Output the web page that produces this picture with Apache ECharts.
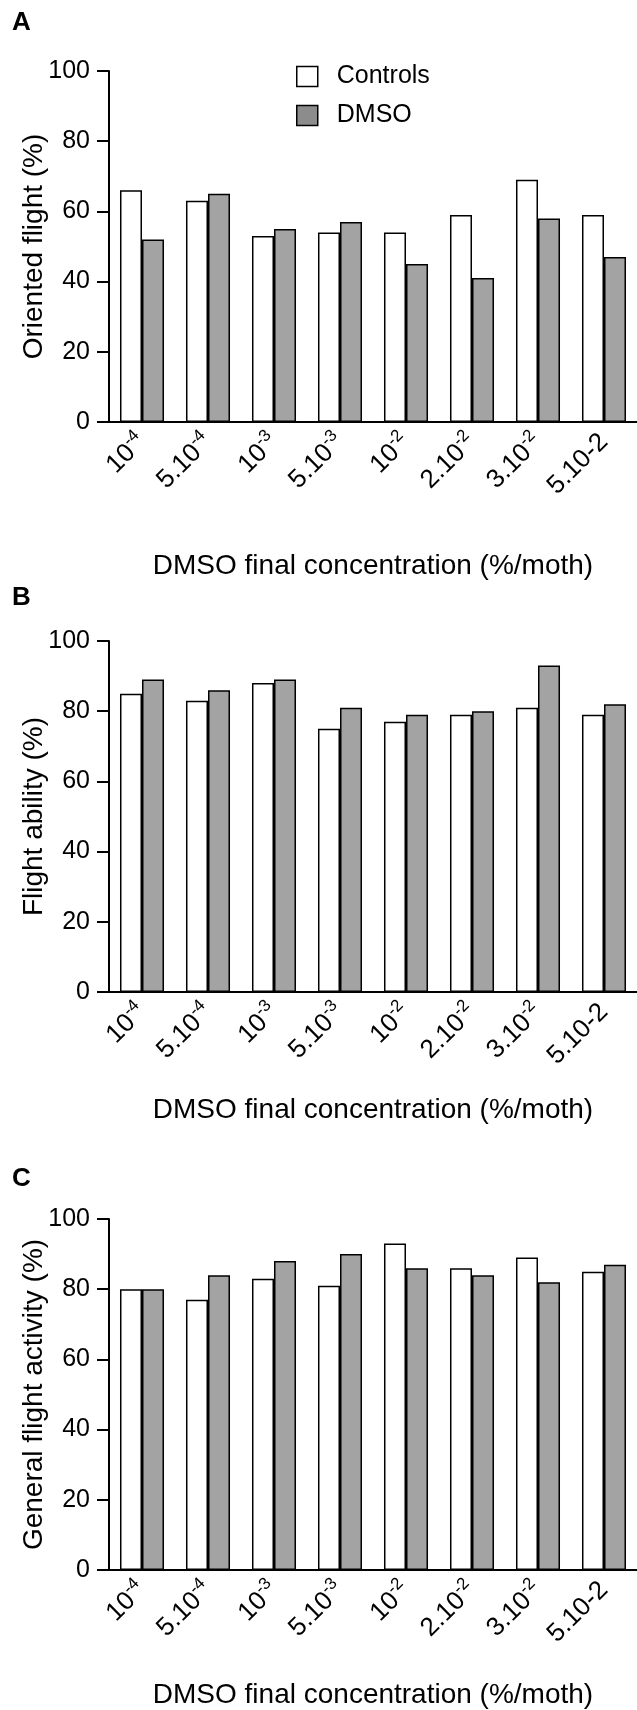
<!DOCTYPE html>
<html>
<head>
<meta charset="utf-8">
<script src="https://cdn.jsdelivr.net/npm/echarts@6/dist/echarts.min.js"></script>
<style>
html,body{margin:0;padding:0;background:#fff;}
#c{width:637px;height:1710px;}
</style>
</head>
<body>
<div id="c"></div>
<script>
var categories = ['10^-4', '5.10^-4', '10^-3', '5.10^-3', '10^-2', '2.10^-2', '3.10^-2', '5.10-2'];
var seriesNames = ['Controls', 'DMSO'];
var panelLetters = ['A', 'B', 'C'];
var yAxisNames = ['Oriented flight (%)', 'Flight ability (%)', 'General flight activity (%)'];
var xAxisName = 'DMSO final concentration (%/moth)';
var yTicks = [0, 20, 40, 60, 80, 100];

var orientedControls = [66, 63, 53, 54, 54, 59, 69, 59];
var orientedDMSO     = [52, 65, 55, 57, 45, 41, 58, 47];
var abilityControls  = [85, 83, 88, 75, 77, 79, 81, 79];
var abilityDMSO      = [89, 86, 89, 81, 79, 80, 93, 82];
var activityControls = [80, 77, 83, 81, 93, 86, 89, 85];
var activityDMSO     = [80, 84, 88, 90, 86, 84, 82, 87];

var panels = [
  {controls: orientedControls, dmso: orientedDMSO},
  {controls: abilityControls, dmso: abilityDMSO},
  {controls: activityControls, dmso: activityDMSO}
];

var FONT = '"Liberation Sans", Arial, Helvetica, sans-serif';
var gridTops = [71, 641, 1219];
var gridH = 351;
var letterTops = [10, 585, 1166];
var xNameGaps = [130, 104, 111];

function fmt(v) {
  var i = v.indexOf('^');
  if (i < 0) return '{n|' + v + '}';
  return '{n|' + v.slice(0, i) + '}{s|' + v.slice(i + 1) + '}';
}

var grids = [], xAxes = [], yAxes = [], series = [], titles = [];
for (var p = 0; p < 3; p++) {
  grids.push({left: 109, width: 528, top: gridTops[p], height: gridH, containLabel: false});
  titles.push({text: panelLetters[p], left: 12, top: letterTops[p], padding: 0,
    textStyle: {fontFamily: FONT, fontSize: 26, fontWeight: 'bold', color: '#000'}});
  xAxes.push({
    type: 'category', gridIndex: p, data: categories,
    name: xAxisName, nameLocation: 'middle', nameGap: xNameGaps[p], nameMoveOverlap: false,
    nameTextStyle: {fontFamily: FONT, fontSize: 28, color: '#000'},
    axisLine: {lineStyle: {color: '#000', width: 2}},
    axisTick: {alignWithLabel: true, length: 11, lineStyle: {color: '#000', width: 2}},
    axisLabel: {
      rotate: 45, margin: 16, interval: 0,
      formatter: fmt,
      rich: {
        n: {fontFamily: FONT, fontSize: 26, color: '#000', lineHeight: 32, verticalAlign: 'middle'},
        s: {fontFamily: FONT, fontSize: 17, color: '#000', lineHeight: 17, verticalAlign: 'top'}
      }
    },
    splitLine: {show: false}
  });
  yAxes.push({
    type: 'value', gridIndex: p, min: 0, max: 100, interval: 20,
    name: yAxisNames[p], nameLocation: 'middle', nameGap: 61, nameMoveOverlap: false,
    nameTextStyle: {fontFamily: FONT, fontSize: 28, color: '#000'},
    axisLine: {show: true, lineStyle: {color: '#000', width: 2}},
    axisTick: {show: true, length: 12, lineStyle: {color: '#000', width: 2}},
    axisLabel: {fontFamily: FONT, fontSize: 25, color: '#000', margin: 19},
    splitLine: {show: false}
  });
  series.push({
    name: seriesNames[0], type: 'bar', xAxisIndex: p, yAxisIndex: p,
    data: panels[p].controls, barGap: 0, barCategoryGap: '33.3%',
    itemStyle: {color: '#ffffff', borderColor: '#000', borderWidth: 1.5}
  });
  series.push({
    name: seriesNames[1], type: 'bar', xAxisIndex: p, yAxisIndex: p,
    data: panels[p].dmso, barGap: 0, barCategoryGap: '33.3%',
    itemStyle: {color: '#a3a3a3', borderColor: '#000', borderWidth: 1.5}
  });
}

var chart = echarts.init(document.getElementById('c'), null, {renderer: 'canvas'});
chart.setOption({
  animation: false,
  backgroundColor: '#fff',
  title: titles,
  legend: {
    orient: 'vertical', left: 296, top: 64, padding: 0,
    itemWidth: 21, itemHeight: 20, itemGap: 14,
    textStyle: {fontFamily: FONT, fontSize: 25, color: '#000', padding: [0, 0, 0, 14]},
    data: [
      {name: seriesNames[0], icon: 'rect', itemStyle: {color: '#ffffff', borderColor: '#000', borderWidth: 1.5}},
      {name: seriesNames[1], icon: 'rect', itemStyle: {color: '#8c8c8c', borderColor: '#000', borderWidth: 1.5}}
    ]
  },
  grid: grids,
  xAxis: xAxes,
  yAxis: yAxes,
  series: series
});
</script>
</body>
</html>
